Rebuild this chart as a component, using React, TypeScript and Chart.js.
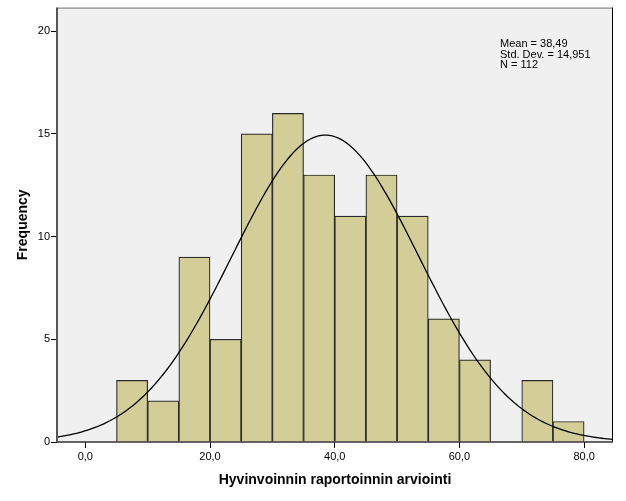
import React, { useEffect, useRef } from "react";
import { Chart, registerables } from "chart.js";

Chart.register(...registerables);

// Histogram bins (centres) and frequencies
const binCenters = [7.5, 12.5, 17.5, 22.5, 27.5, 32.5, 37.5, 42.5, 47.5, 52.5, 57.5, 62.5, 67.5, 72.5, 77.5];
const frequencies = [3, 2, 9, 5, 15, 16, 13, 11, 13, 11, 6, 4, 0, 3, 1];
const binWidth = 5;

// Summary statistics shown in the chart
const meanValue = 38.49;
const stdDev = 14.951;
const nCount = 112;
const statLines = ["Mean = 38,49", "Std. Dev. = 14,951", "N = 112"];

const xTicks = [0, 20, 40, 60, 80];
const yTicks = [0, 5, 10, 15, 20];

const X_MIN = -4.54;
const X_MAX = 84.63;
const Y_MAX = 21.15;

export default function App() {
  const ref = useRef<HTMLCanvasElement | null>(null);

  useEffect(() => {
    document.body.style.margin = "0";
    const canvas = ref.current!;
    const barData = binCenters.map((x, i) => ({ x, y: frequencies[i] }));

    // Fitted normal curve (SPSS overlay) from mean, SD, N and bin width
    const curve: { x: number; y: number }[] = [];
    const steps = 200;
    for (let i = 0; i <= steps; i++) {
      const x = X_MIN + ((X_MAX - X_MIN) * i) / steps;
      const z = (x - meanValue) / stdDev;
      const y = (nCount * binWidth) / (stdDev * Math.sqrt(2 * Math.PI)) * Math.exp(-0.5 * z * z);
      curve.push({ x, y });
    }

    const framePlugin = {
      id: "frame",
      beforeDatasetsDraw(chart: any) {
        const { ctx, chartArea: a } = chart;
        ctx.save();
        ctx.fillStyle = "#F0F0F0";
        ctx.fillRect(a.left, a.top, a.right - a.left, a.bottom - a.top);
        ctx.restore();
      },
      afterDatasetsDraw(chart: any) {
        const { ctx, chartArea: a } = chart;
        ctx.save();
        ctx.lineWidth = 1;
        ctx.strokeStyle = "#707070";
        ctx.beginPath();
        ctx.moveTo(a.left, a.top + 0.5);
        ctx.lineTo(a.right, a.top + 0.5);
        ctx.stroke();
        ctx.strokeStyle = "#000";
        ctx.beginPath();
        ctx.moveTo(a.right - 0.5, a.top);
        ctx.lineTo(a.right - 0.5, a.bottom);
        ctx.stroke();
        ctx.strokeStyle = "#333";
        ctx.lineWidth = 1.5;
        ctx.beginPath();
        ctx.moveTo(a.left, a.bottom);
        ctx.lineTo(a.right, a.bottom);
        ctx.stroke();
        ctx.strokeStyle = "#555";
        ctx.lineWidth = 2;
        ctx.beginPath();
        ctx.moveTo(a.left, a.top);
        ctx.lineTo(a.left, a.bottom);
        ctx.stroke();

        ctx.fillStyle = "#000";
        ctx.font = "11px 'Liberation Sans', Arial, sans-serif";
        ctx.textAlign = "left";
        ctx.textBaseline = "middle";
        statLines.forEach((t, i) => ctx.fillText(t, 500, 44 + i * 10.5));
        ctx.restore();
      },
    };

    const chart = new Chart(canvas, {
      type: "bar",
      data: {
        datasets: [
          {
            type: "bar",
            data: barData as any,
            backgroundColor: "#D3CE98",
            borderColor: "#2a2a2a",
            borderWidth: 1.2,
            barPercentage: 1,
            categoryPercentage: 1,
            order: 2,
          },
          {
            type: "line",
            data: curve as any,
            borderColor: "#000",
            borderWidth: 1.3,
            pointRadius: 0,
            fill: false,
            tension: 0,
            order: 1,
          },
        ],
      },
      options: {
        animation: false,
        responsive: false,
        layout: { padding: { left: 0, top: 4, right: 13, bottom: 0 } },
        plugins: { legend: { display: false }, tooltip: { enabled: false } },
        scales: {
          x: {
            type: "linear",
            min: X_MIN,
            max: X_MAX,
            offset: false,
            afterBuildTicks: (s: any) => {
              s.ticks = xTicks.map((v) => ({ value: v }));
            },
            afterFit: (s: any) => {
              s.height = 59;
            },
            grid: { drawOnChartArea: false, offset: false, color: "#000", tickLength: 6, lineWidth: 1 },
            border: { display: false },
            ticks: {
              color: "#000",
              padding: 2,
              maxRotation: 0,
              font: { family: "'Liberation Sans', Arial, sans-serif", size: 11 },
              callback: (v: any) => Number(v).toFixed(1).replace(".", ","),
            },
            title: {
              display: true,
              text: "Hyvinvoinnin raportoinnin arviointi",
              color: "#000",
              font: { family: "'Liberation Sans', Arial, sans-serif", size: 14, weight: "bold" },
              padding: { top: 0, bottom: 12 },
            },
          },
          y: {
            min: 0,
            max: Y_MAX,
            afterBuildTicks: (s: any) => {
              s.ticks = yTicks.map((v) => ({ value: v }));
            },
            afterFit: (s: any) => {
              s.width = 57;
            },
            grid: { drawOnChartArea: false, color: "#000", tickLength: 6, lineWidth: 1 },
            border: { display: false },
            ticks: {
              color: "#000",
              padding: 1,
              font: { family: "'Liberation Sans', Arial, sans-serif", size: 11 },
            },
            title: {
              display: true,
              text: "Frequency",
              color: "#000",
              font: { family: "'Liberation Sans', Arial, sans-serif", size: 14, weight: "bold" },
              padding: { top: 14.6, bottom: 0 },
            },
          },
        },
      } as any,
      plugins: [framePlugin],
    });
    return () => chart.destroy();
  }, []);

  return <canvas ref={ref} width={626} height={501} style={{ display: "block" }} />;
}
